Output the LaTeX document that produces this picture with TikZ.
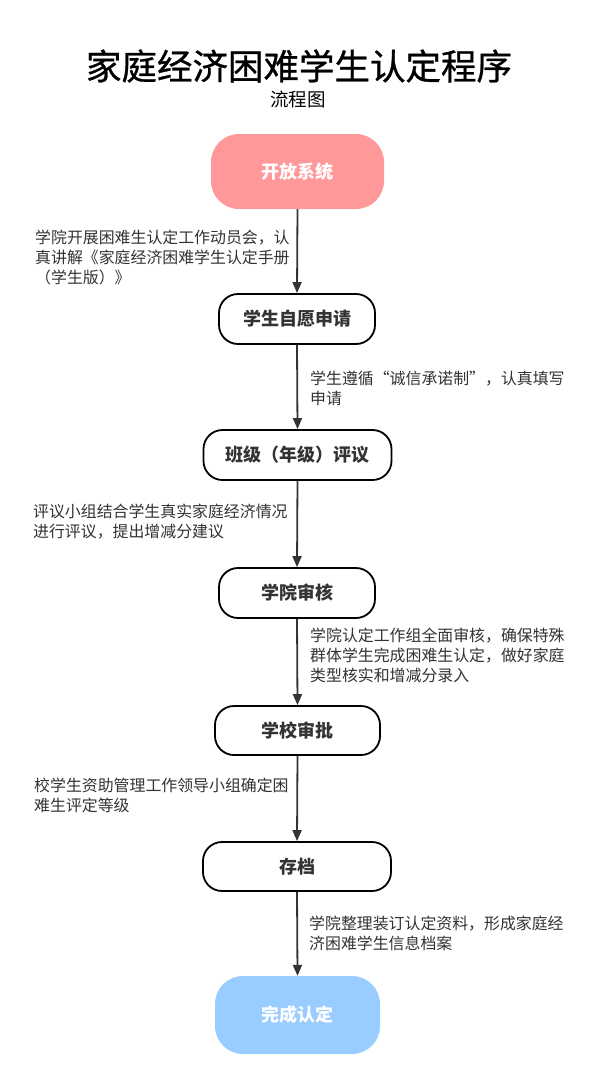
\documentclass[tikz,border=0pt]{standalone}
\usepackage{fontspec}
\newfontfamily\cjk{Noto Sans CJK SC}
\newfontfamily\cjktitle{Noto Sans CJK SC}[FakeBold=0.8]
\usetikzlibrary{arrows.meta}
\definecolor{startpink}{HTML}{FF9999}
\definecolor{endblue}{HTML}{99CCFF}
\definecolor{linegray}{HTML}{333333}
\definecolor{textgray}{HTML}{333333}
\begin{document}
\begin{tikzpicture}[x=1pt,y=-1pt,
  stepbox/.style={draw=black,line width=1.8pt,fill=white,rounded corners=19pt,
    inner sep=0pt,font=\cjk\fontsize{18}{22}\selectfont\bfseries,text=textgray},
  termbox/.style={rounded corners=28pt,inner sep=0pt,
    font=\cjk\fontsize{18}{22}\selectfont\bfseries,text=white},
  note/.style={anchor=west,align=left,inner sep=0pt,text=textgray,
    font=\cjk\fontsize{15.9}{20}\selectfont},
  flow/.style={draw=linegray,line width=1.8pt,-{Triangle[length=11pt,width=9pt]}}]
\useasboundingbox (0,0) rectangle (595,1074);
\fill[white] (0,0) rectangle (595,1074);

\node[font=\cjktitle\fontsize{35.5}{40}\selectfont,inner sep=0pt] (title) at (299,66) {家庭经济困难学生认定程序};
\node[font=\cjk\fontsize{18.5}{22}\selectfont,inner sep=0pt] (sub) at (298,99) {流程图};

\node[termbox,fill=startpink,minimum width=173pt,minimum height=75pt] (s0) at (297.5,171.5) {开放系统};
\node[stepbox,minimum width=156pt,minimum height=50pt] (s1) at (297,319) {学生自愿申请};
\node[stepbox,minimum width=188pt,minimum height=50pt] (s2) at (297.5,455) {班级（年级）评议};
\node[stepbox,minimum width=156pt,minimum height=50pt] (s3) at (297,593) {学院审核};
\node[stepbox,minimum width=165pt,minimum height=49pt] (s4) at (297.5,730.5) {学校审批};
\node[stepbox,minimum width=188pt,minimum height=49pt] (s5) at (297,866.5) {存档};
\node[termbox,fill=endblue,minimum width=165pt,minimum height=78pt] (s6) at (297.5,1015) {完成认定};

\draw[flow] (s0.south) -- (s1.north);
\draw[flow] (s1.south) -- (s2.north);
\draw[flow] (s2.south) -- (s3.north);
\draw[flow] (s3.south) -- (s4.north);
\draw[flow] (s4.south) -- (s5.north);
\draw[flow] (s5.south) -- (s6.north);

\node[note] (a1) at (35,258) {学院开展困难生认定工作动员会，认\\真讲解《家庭经济困难学生认定手册\\（学生版）》};
\node[note] (a2) at (310,388) {学生遵循“诚信承诺制”，认真填写\\申请};
\node[note] (a3) at (33,522) {评议小组结合学生真实家庭经济情况\\进行评议，提出增减分建议};
\node[note] (a4) at (310,655) {学院认定工作组全面审核，确保特殊\\群体学生完成困难生认定，做好家庭\\类型核实和增减分录入};
\node[note] (a5) at (34,795.5) {校学生资助管理工作领导小组确定困\\难生评定等级};
\node[note] (a6) at (309,933) {学院整理装订认定资料，形成家庭经\\济困难学生信息档案};
\end{tikzpicture}
\end{document}
